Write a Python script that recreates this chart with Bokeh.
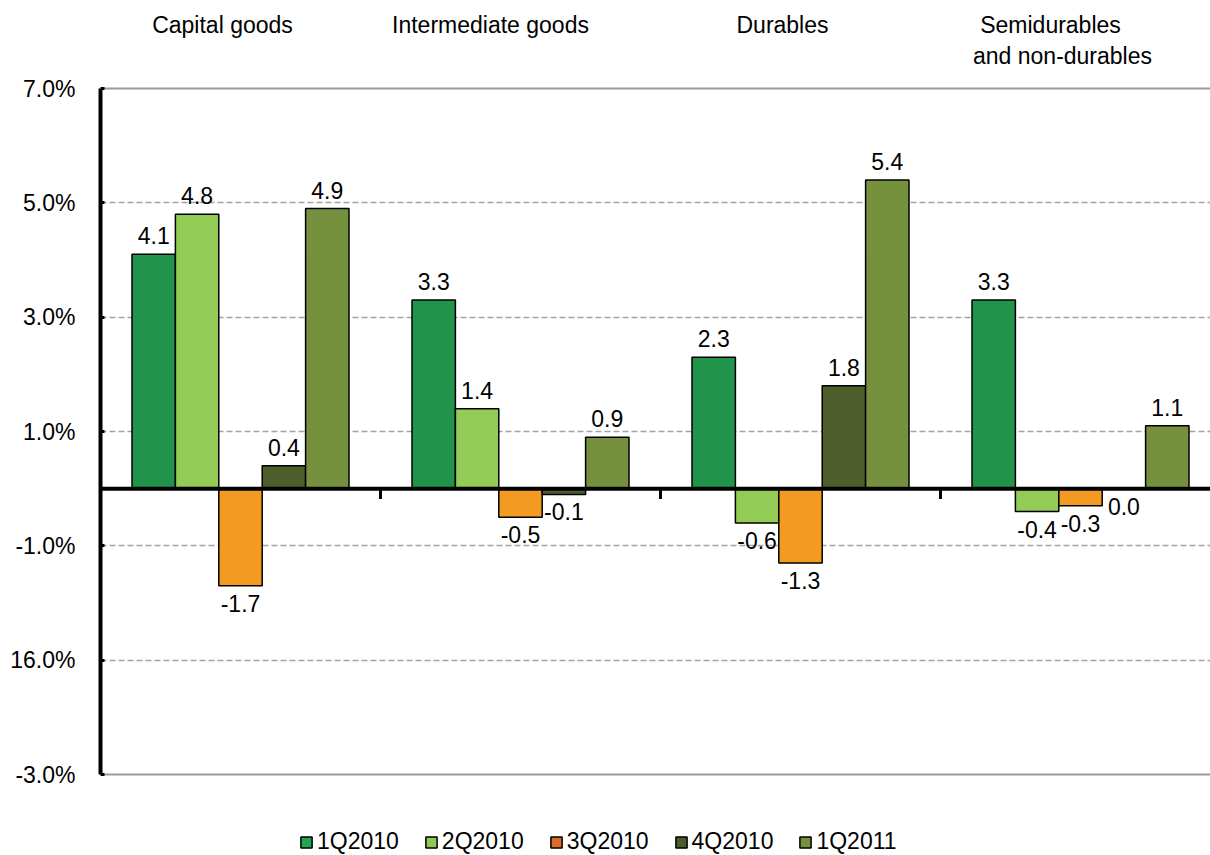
from bokeh.plotting import figure
from bokeh.models import Range1d, Span, Label, Legend, LegendItem, FixedTicker, ColumnDataSource
from bokeh.core.properties import value
from bokeh.embed import file_html
from bokeh.resources import INLINE

# ---- data ----
categories = ["Capital goods", "Intermediate goods", "Durables", "Semidurables and non-durables"]
series_names = ["1Q2010", "2Q2010", "3Q2010", "4Q2010", "1Q2011"]
q1_2010 = [4.1, 3.3, 2.3, 3.3]
q2_2010 = [4.8, 1.4, -0.6, -0.4]
q3_2010 = [-1.7, -0.5, -1.3, -0.3]
q4_2010 = [0.4, -0.1, 1.8, 0.0]
q1_2011 = [4.9, 0.9, 5.4, 1.1]
series_values = [q1_2010, q2_2010, q3_2010, q4_2010, q1_2011]
bar_colors = ["#21934A", "#92CB55", "#F39A22", "#4D5E2A", "#76913D"]
legend_colors = ["#22A650", "#8EC855", "#DC6A28", "#4B5E29", "#76913D"]
tick_values = [7, 5, 3, 1, -1, -3, -5]
tick_labels = ["7.0%", "5.0%", "3.0%", "1.0%", "-1.0%", "16.0%", "-3.0%"]
grid_values = [5, 3, 1, -1, -3]

FONT = "Liberation Sans"
FS = "23px"

# ---- layout (pixels) ----
W, H = 1210, 855
LEFT = 100                # frame left inside figure
AX_TOP, AX_BOT = 88, 774  # y pixel of top / bottom tick inside figure
ymax_t, ymin_t = max(tick_values), min(tick_values)
ppu = (AX_BOT - AX_TOP) / (ymax_t - ymin_t)
y_top = ymax_t + AX_TOP / ppu
y_bot = ymin_t - (H - AX_BOT) / ppu
cat_px = 280
x_end = (W - LEFT) / cat_px

p = figure(width=W, height=H, output_backend="svg", toolbar_location=None,
           x_range=Range1d(0, x_end), y_range=Range1d(y_bot, y_top),
           min_border_left=LEFT, min_border_top=0, min_border_right=0, min_border_bottom=0)
p.outline_line_color = None
p.background_fill_color = "white"
p.xaxis.visible = False
p.xgrid.visible = False

# y axis
ya = p.yaxis[0]
ya.ticker = FixedTicker(ticks=tick_values)
ya.major_label_overrides = {v: t for v, t in zip(tick_values, tick_labels)}
ya.bounds = (ymin_t, ymax_t)
ya.axis_line_width = 4
ya.axis_line_color = "black"
ya.major_tick_in = 4
ya.major_tick_out = 0
ya.major_tick_line_width = 3
ya.minor_tick_line_color = None
ya.major_label_standoff = 25
ya.major_label_text_font = FONT
ya.major_label_text_font_size = FS
ya.major_label_text_color = "black"

# grid
p.ygrid.ticker = FixedTicker(ticks=grid_values)
p.ygrid.grid_line_color = "#A3A3A3"
p.ygrid.grid_line_dash = "6 3"
p.ygrid.grid_line_width = 1.5
for yv in (ymax_t, ymin_t):
    p.add_layout(Span(location=yv, dimension="width", line_color="#9A9A9A", line_width=2, level="underlay"))

# bars
nser = len(series_names)
bw = 0.155
items = []
pos_src = dict(x=[], y=[], t=[])
neg_src = dict(x=[], y=[], t=[])
for k, (name, vals, col) in enumerate(zip(series_names, series_values, bar_colors)):
    xs = [i + 0.5 + (k - (nser - 1) / 2) * bw for i in range(len(categories))]
    src = ColumnDataSource(dict(x=xs, top=vals))
    p.vbar(x="x", top="top", bottom=0, width=bw, source=src, fill_color=col,
           line_color="black", line_width=1.5)
    for x, v in zip(xs, vals):
        d = pos_src if v > 0 else neg_src
        d["x"].append(x)
        d["y"].append(v)
        d["t"].append(f"{v:.1f}")

# legend proxies (not drawn in the plot area)
nan = float("nan")
for name, col in zip(series_names, legend_colors):
    r = p.vbar(x=[nan], top=[nan], bottom=0, width=bw, fill_color=col, line_color="black", line_width=1.5)
    items.append(LegendItem(label=name, renderers=[r]))

p.text(x="x", y="y", text="t", source=ColumnDataSource(pos_src), text_align="center",
       text_baseline="bottom", y_offset=-10, text_font=value(FONT), text_font_size=FS, text_color="black")
p.text(x="x", y="y", text="t", source=ColumnDataSource(neg_src), text_align="center",
       text_baseline="top", y_offset=9, text_font=value(FONT), text_font_size=FS, text_color="black")

# zero line and category separators
p.add_layout(Span(location=0, dimension="width", line_color="black", line_width=4))
seps = list(range(1, len(categories)))
p.segment(x0=seps, y0=[0] * len(seps), x1=seps, y1=[-0.18] * len(seps), line_color="black", line_width=3)

# category labels above the plot
cat_lines = [["Capital goods"], ["Intermediate goods"], ["Durables"], ["Semidurables", "and non-durables"]]
cat_dx_px = [[-18], [-30], [-18], [-30, -18]]
line_gap = 31 / ppu
for i, (lines, dxs) in enumerate(zip(cat_lines, cat_dx_px)):
    for j, (line, dx) in enumerate(zip(lines, dxs)):
        p.add_layout(Label(x=i + 0.5 + dx / cat_px, y=ymax_t + 64 / ppu - j * line_gap, text=line,
                           text_align="center", text_baseline="middle", text_font=FONT,
                           text_font_size=FS, text_color="black"))

legend = Legend(items=items, orientation="horizontal", location=(199, 0),
                glyph_width=14, glyph_height=14, label_standoff=4, spacing=25,
                label_text_font=FONT, label_text_font_size=FS, label_text_color="black",
                border_line_color=None, background_fill_alpha=0, padding=1, margin=0)
p.add_layout(legend, "center")

open("out.html", "w").write(file_html(p, INLINE))
